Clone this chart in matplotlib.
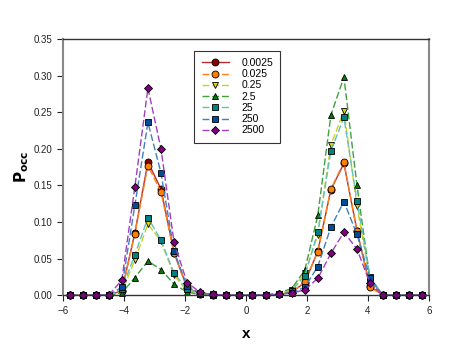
import matplotlib
matplotlib.use('Agg')
import matplotlib.pyplot as plt

plt.rcParams['font.family'] = ['Liberation Sans', 'DejaVu Sans']

# grid points (cell centres on [-6, 6])
x = [-5.786, -5.357, -4.929, -4.5, -4.071, -3.643, -3.214, -2.786, -2.357, -1.929,
     -1.5, -1.071, -0.643, -0.214, 0.214, 0.643, 1.071, 1.5, 1.929, 2.357,
     2.786, 3.214, 3.643, 4.071, 4.5, 4.929, 5.357, 5.786]

labels = ['0.0025', '0.025', '0.25', '2.5', '25', '250', '2500']

p_0_0025 = [0, 0, 0, 0, 0.006, 0.085, 0.182, 0.145, 0.058, 0.010,
            0.002, 0.0005, 0, 0, 0, 0, 0.001, 0.004, 0.017, 0.060,
            0.144, 0.180, 0.088, 0.012, 0, 0, 0, 0]
p_0_025 = [0, 0, 0, 0, 0.005, 0.084, 0.177, 0.141, 0.057, 0.010,
           0.002, 0.0005, 0, 0, 0, 0, 0.001, 0.004, 0.018, 0.059,
           0.145, 0.182, 0.0875, 0.0105, 0, 0, 0, 0]
p_0_25 = [0, 0, 0, 0, 0.004, 0.048, 0.097, 0.074, 0.027, 0.006,
          0.001, 0, 0, 0, 0, 0, 0.002, 0.007, 0.030, 0.082,
          0.205, 0.252, 0.122, 0.020, 0, 0, 0, 0]
p_2_5 = [0, 0, 0, 0, 0.003, 0.024, 0.0465, 0.035, 0.015, 0.004,
         0.001, 0, 0, 0, 0, 0, 0.003, 0.009, 0.034, 0.109,
         0.246, 0.298, 0.150, 0.021, 0, 0, 0, 0]
p_25 = [0, 0, 0, 0, 0.008, 0.055, 0.106, 0.075, 0.030, 0.008,
        0.002, 0, 0, 0, 0, 0, 0.002, 0.006, 0.026, 0.086,
        0.197, 0.243, 0.129, 0.0246, 0, 0, 0, 0]
p_250 = [0, 0, 0, 0, 0.011, 0.123, 0.236, 0.167, 0.060, 0.012,
         0.003, 0.001, 0, 0, 0, 0, 0.001, 0.003, 0.011, 0.039,
         0.093, 0.128, 0.083, 0.023, 0, 0, 0, 0]
p_2500 = [0, 0, 0, 0, 0.0205, 0.148, 0.283, 0.200, 0.072, 0.017,
          0.004, 0.001, 0, 0, 0, 0, 0.002, 0.003, 0.007, 0.023,
          0.057, 0.086, 0.063, 0.016, 0, 0, 0, 0]

series = [p_0_0025, p_0_025, p_0_25, p_2_5, p_25, p_250, p_2500]

styles = [
    # marker, face, line colour, linestyle
    ('o', '#8b0000', '#b03030', '-'),
    ('o', '#ff8000', '#ff8020', (0, (5, 2))),
    ('v', '#d8d800', '#d0d020', (0, (5, 2))),
    ('^', '#008000', '#40a040', (0, (5, 2))),
    ('s', '#008080', '#60c0c0', (0, (5, 2))),
    ('s', '#004c99', '#4080c0', (0, (5, 2))),
    ('D', '#800080', '#a040c0', (0, (5, 2))),
]

fig = plt.figure(figsize=(4.5, 3.46), dpi=100)
ax = fig.add_axes([0.14, 0.147, 0.813, 0.74])

for vals, lab, (mk, face, lc, ls) in zip(series, labels, styles):
    ms = 4.5 if mk == 'D' else 5
    ax.plot(x, vals, color=lc, linestyle=ls, linewidth=1.0, marker=mk,
            markersize=ms, markerfacecolor=face, markeredgecolor='black',
            markeredgewidth=0.6, label=lab, clip_on=False)

ax.set_xlim(-6, 6)
ax.set_ylim(0, 0.35)
ax.set_xticks([-6, -4, -2, 0, 2, 4, 6])
ax.set_yticks([0, 0.05, 0.10, 0.15, 0.20, 0.25, 0.30, 0.35])
ax.set_yticklabels(['0.00', '0.05', '0.10', '0.15', '0.20', '0.25', '0.30', '0.35'])
ax.tick_params(direction='out', length=4, width=0.8, labelsize=7, colors='#222222')

for side in ['left', 'right']:
    ax.spines[side].set_color('#888888')
    ax.spines[side].set_linewidth(1.5)
for side in ['top', 'bottom']:
    ax.spines[side].set_color('#333333')
    ax.spines[side].set_linewidth(1.0)

ax.set_xlabel('x', fontsize=11, fontweight='bold', labelpad=8)
ax.set_ylabel(r'$\mathbf{P_{occ}}$', fontsize=11, labelpad=2)

leg = ax.legend(loc='upper left', bbox_to_anchor=(0.345, 0.975), fontsize=7.5,
                frameon=True, fancybox=False, edgecolor='black', handlelength=2.6,
                labelspacing=0.12, borderpad=0.7, handletextpad=1.2)
leg.get_frame().set_linewidth(0.8)

fig.savefig('out.png', dpi=100)
